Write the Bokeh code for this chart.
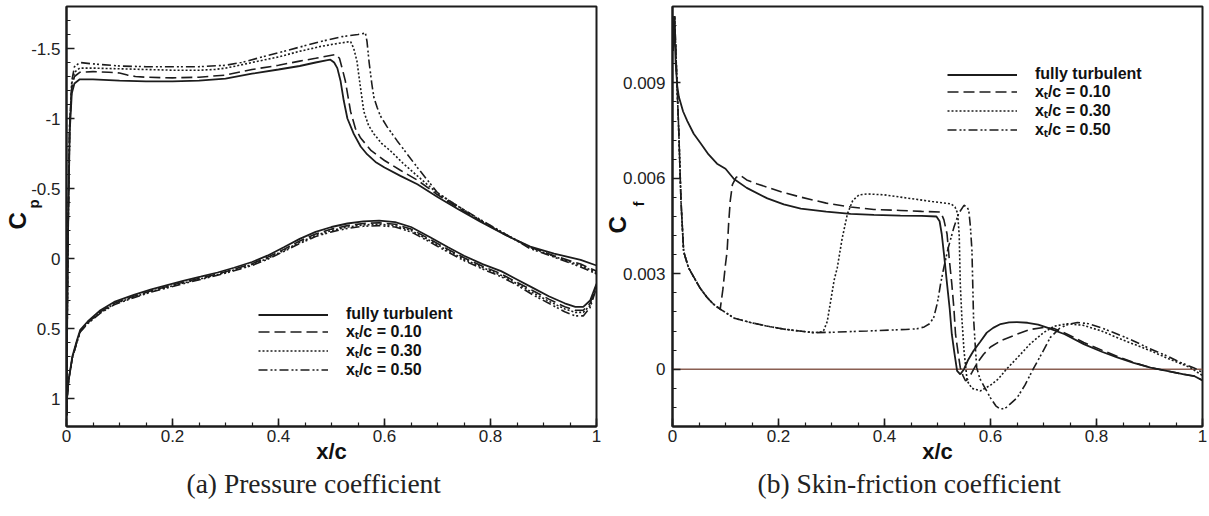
import numpy as np
from bokeh.plotting import figure
from bokeh.models import (Range1d, FixedTicker, Legend, LegendItem, Span, Title,
                          CustomJSTickFormatter)
from bokeh.layouts import row
from bokeh.embed import file_html
from bokeh.resources import INLINE

SANS = "Liberation Sans"
SERIF = "Liberation Serif"
INK = "#1c1c1c"
NBSP = "\u00a0"

# ---------------- series / legend ----------------
series_labels = ["fully turbulent", "xₜ/c = 0.10", "xₜ/c = 0.30", "xₜ/c = 0.50"]
series_dash = ["solid", "11 5", "2 2", "9 3 2 2 2 3"]
series_width = [1.8, 1.6, 1.6, 1.6]

# ---------------- (a) pressure coefficient: upper surface ----------------
x_up_ft = [0.0, 0.001, 0.003, 0.006, 0.01, 0.015, 0.025, 0.05, 0.1, 0.15, 0.2, 0.25, 0.3, 0.35, 0.4,
           0.44, 0.47, 0.49, 0.498, 0.505, 0.511, 0.517, 0.523, 0.53, 0.542, 0.555, 0.567, 0.583, 0.6,
           0.63, 0.662, 0.7, 0.74, 0.78, 0.83, 0.875, 0.92, 0.97, 1.0]
cp_up_ft = [1.12, 0.6, -0.2, -0.9, -1.18, -1.25, -1.28, -1.28, -1.27, -1.265, -1.265, -1.27, -1.285, -1.32, -1.35,
            -1.375, -1.40, -1.415, -1.42, -1.40, -1.36, -1.27, -1.13, -1.0, -0.89, -0.80, -0.745, -0.69, -0.65,
            -0.59, -0.53, -0.44, -0.35, -0.265, -0.165, -0.085, -0.035, 0.01, 0.05]

x_up_10 = [0.0, 0.001, 0.003, 0.006, 0.01, 0.015, 0.025, 0.05, 0.08, 0.1, 0.115, 0.13, 0.15, 0.2, 0.25,
           0.3, 0.35, 0.4, 0.44, 0.47, 0.49, 0.508, 0.515, 0.52, 0.526, 0.531, 0.536, 0.545, 0.555, 0.575,
           0.6, 0.63, 0.662, 0.7, 0.74, 0.78, 0.83, 0.875, 0.92, 0.97, 1.0]
cp_up_10 = [1.12, 0.6, -0.2, -0.95, -1.22, -1.30, -1.33, -1.335, -1.33, -1.325, -1.31, -1.30, -1.295, -1.29, -1.295,
            -1.31, -1.35, -1.38, -1.41, -1.43, -1.445, -1.457, -1.43, -1.36, -1.27, -1.16, -1.05, -0.93, -0.86, -0.77,
            -0.70, -0.63, -0.56, -0.455, -0.36, -0.27, -0.165, -0.08, -0.02, 0.04, 0.09]

x_up_30 = [0.0, 0.001, 0.003, 0.006, 0.01, 0.015, 0.025, 0.05, 0.1, 0.15, 0.2, 0.25, 0.28, 0.3, 0.32,
           0.35, 0.4, 0.44, 0.48, 0.51, 0.536, 0.542, 0.548, 0.554, 0.561, 0.57, 0.58, 0.595, 0.611, 0.635,
           0.662, 0.7, 0.74, 0.78, 0.83, 0.875, 0.92, 0.97, 1.0]
cp_up_30 = [1.12, 0.6, -0.2, -0.95, -1.25, -1.33, -1.36, -1.36, -1.355, -1.35, -1.345, -1.345, -1.35, -1.36, -1.375,
            -1.40, -1.44, -1.48, -1.515, -1.535, -1.55, -1.50, -1.41, -1.24, -1.05, -0.95, -0.89, -0.82, -0.77, -0.68,
            -0.59, -0.465, -0.37, -0.275, -0.17, -0.08, -0.015, 0.05, 0.1]

x_up_50 = [0.0, 0.001, 0.003, 0.006, 0.01, 0.015, 0.025, 0.05, 0.1, 0.15, 0.2, 0.25, 0.3, 0.33, 0.36,
           0.4, 0.44, 0.48, 0.52, 0.55, 0.564, 0.567, 0.571, 0.576, 0.58, 0.586, 0.592, 0.605, 0.624, 0.642,
           0.662, 0.7, 0.74, 0.78, 0.83, 0.875, 0.92, 0.97, 1.0]
cp_up_50 = [1.12, 0.6, -0.2, -0.95, -1.27, -1.37, -1.40, -1.39, -1.375, -1.37, -1.37, -1.37, -1.38, -1.40, -1.43,
            -1.47, -1.51, -1.55, -1.585, -1.60, -1.61, -1.55, -1.40, -1.25, -1.15, -1.08, -1.02, -0.94, -0.84, -0.75,
            -0.65, -0.47, -0.37, -0.28, -0.17, -0.07, -0.01, 0.06, 0.11]

# ---------------- (a) pressure coefficient: lower surface ----------------
x_lo = [0.0, 0.001, 0.004, 0.011, 0.02, 0.026, 0.04, 0.064, 0.09, 0.127, 0.16, 0.19, 0.22, 0.253, 0.285,
        0.316, 0.35, 0.379, 0.41, 0.44, 0.47, 0.5, 0.53, 0.56, 0.59, 0.62, 0.65, 0.687, 0.72, 0.75,
        0.785, 0.82, 0.85, 0.88, 0.91, 0.94, 0.96, 0.975, 0.988, 1.0]
cp_lo_ft = [1.12, 1.0, 0.87, 0.70, 0.58, 0.51, 0.45, 0.37, 0.31, 0.26, 0.22, 0.19, 0.16, 0.13, 0.10,
            0.066, 0.025, -0.02, -0.08, -0.14, -0.19, -0.225, -0.25, -0.265, -0.27, -0.26, -0.225, -0.15, -0.08, -0.02,
            0.04, 0.09, 0.15, 0.21, 0.27, 0.32, 0.345, 0.345, 0.30, 0.18]
cp_lo_10 = [1.12, 1.0, 0.87, 0.71, 0.59, 0.52, 0.46, 0.38, 0.32, 0.27, 0.23, 0.20, 0.17, 0.14, 0.11,
            0.077, 0.037, -0.008, -0.065, -0.125, -0.175, -0.21, -0.235, -0.25, -0.255, -0.245, -0.21, -0.135, -0.065, -0.005,
            0.055, 0.11, 0.17, 0.23, 0.29, 0.345, 0.37, 0.37, 0.32, 0.19]
cp_lo_30 = [1.12, 1.0, 0.87, 0.71, 0.59, 0.52, 0.46, 0.385, 0.325, 0.275, 0.235, 0.205, 0.175, 0.145, 0.115,
            0.082, 0.043, 0.0, -0.057, -0.115, -0.165, -0.2, -0.225, -0.24, -0.245, -0.235, -0.2, -0.125, -0.055, 0.005,
            0.065, 0.12, 0.18, 0.245, 0.305, 0.36, 0.385, 0.385, 0.335, 0.2]
cp_lo_50 = [1.12, 1.0, 0.87, 0.71, 0.595, 0.525, 0.465, 0.39, 0.33, 0.28, 0.24, 0.21, 0.18, 0.15, 0.12,
            0.088, 0.05, 0.006, -0.05, -0.107, -0.157, -0.19, -0.215, -0.23, -0.235, -0.225, -0.19, -0.115, -0.045, 0.015,
            0.075, 0.13, 0.19, 0.26, 0.32, 0.38, 0.41, 0.41, 0.35, 0.21]

# ---------------- (b) skin-friction coefficient ----------------
x_cf_ft = [0.001, 0.003, 0.006, 0.009, 0.012, 0.02, 0.028, 0.04, 0.053, 0.068, 0.084, 0.1, 0.116, 0.14, 0.179,
           0.21, 0.242, 0.29, 0.336, 0.38, 0.43, 0.47, 0.498, 0.504, 0.508, 0.513, 0.518, 0.523, 0.527, 0.532,
           0.537, 0.543, 0.55, 0.558, 0.568, 0.58, 0.593, 0.605, 0.619, 0.635, 0.65, 0.67, 0.69, 0.707, 0.74,
           0.776, 0.81, 0.839, 0.87, 0.902, 0.935, 0.965, 0.985, 1.0]
cf_ft = [0.0100, 0.0111, 0.0096, 0.0089, 0.00856, 0.0081, 0.0078, 0.0074, 0.0071, 0.00675, 0.00646, 0.0063, 0.00598, 0.0057, 0.00537,
         0.00518, 0.00505, 0.00495, 0.00488, 0.00485, 0.00483, 0.00482, 0.0048, 0.00465, 0.00425, 0.0035, 0.00268, 0.0019, 0.0011, 0.0005,
         -0.00005, -0.00016, 0.0, 0.0003, 0.00058, 0.00085, 0.00115, 0.0013, 0.00142, 0.00147, 0.00148, 0.00146, 0.0014, 0.00131, 0.0011,
         0.00079, 0.00055, 0.00037, 0.0002, 0.00005, -0.00006, -0.00016, -0.00022, -0.00035]

# laminar leading part shared by the transition cases
x_lam = [0.001, 0.004, 0.008, 0.012, 0.016, 0.021, 0.03, 0.04, 0.052, 0.065, 0.077, 0.09, 0.117, 0.147, 0.18,
         0.21, 0.24, 0.267, 0.3, 0.33, 0.367, 0.41, 0.44, 0.461, 0.475, 0.485]
cf_lam = [0.0100, 0.0111, 0.0092, 0.0074, 0.0053, 0.0037, 0.0032, 0.0029, 0.00255, 0.00226, 0.00205, 0.00189, 0.0016, 0.00147, 0.00135,
          0.00126, 0.0012, 0.00115, 0.00116, 0.00118, 0.0012, 0.00123, 0.00125, 0.00127, 0.00133, 0.00143]

x_tr10 = [0.095, 0.1, 0.103, 0.106, 0.109, 0.113, 0.12, 0.128, 0.14, 0.16, 0.179, 0.21, 0.242, 0.29, 0.336,
          0.38, 0.43, 0.47, 0.506, 0.512, 0.518, 0.522, 0.527, 0.531, 0.534, 0.539, 0.543, 0.548, 0.553, 0.558,
          0.565, 0.575, 0.587, 0.6, 0.62, 0.65, 0.675, 0.7, 0.72, 0.745, 0.776, 0.81, 0.84, 0.87, 0.9,
          0.935, 0.965, 0.985, 1.0]
cf_tr10 = [0.0025, 0.0033, 0.0037, 0.0046, 0.0053, 0.0058, 0.00603, 0.00609, 0.00595, 0.00582, 0.00572, 0.00555, 0.00541, 0.00522, 0.0051,
           0.00502, 0.00499, 0.00496, 0.00494, 0.0047, 0.00425, 0.0035, 0.00268, 0.0019, 0.0011, 0.0005, 0.00005, -0.0002, -0.00037, -0.0003,
           -0.0001, 0.0002, 0.00047, 0.0007, 0.0009, 0.0011, 0.00125, 0.00131, 0.00128, 0.0011, 0.00084, 0.0006, 0.0004, 0.00021, 0.00006,
           -0.00006, -0.00016, -0.00022, -0.00035]

x_tr30 = [0.28, 0.285, 0.292, 0.3, 0.305, 0.311, 0.32, 0.33, 0.34, 0.352, 0.367, 0.4, 0.43, 0.46, 0.49,
          0.525, 0.533, 0.538, 0.541, 0.543, 0.546, 0.55, 0.556, 0.565, 0.581, 0.6, 0.615, 0.63, 0.65, 0.675,
          0.7, 0.72, 0.745, 0.775, 0.808, 0.85, 0.902, 0.94, 0.977, 1.0]
cf_tr30 = [0.00117, 0.00121, 0.0015, 0.0023, 0.0028, 0.0032, 0.0041, 0.00488, 0.0053, 0.00548, 0.00551, 0.00548, 0.00541, 0.00534, 0.00527,
           0.0052, 0.0051, 0.0049, 0.0042, 0.00268, 0.0016, 0.00058, -0.00037, -0.0006, -0.00068, -0.0005, -0.0003, 0.0, 0.00035, 0.0008,
           0.00115, 0.00135, 0.00143, 0.00138, 0.00121, 0.00092, 0.00058, 0.0003, 0.00005, -0.0002]

x_tr50 = [0.493, 0.5, 0.506, 0.512, 0.52, 0.531, 0.54, 0.55, 0.555, 0.559, 0.562, 0.565, 0.568, 0.571, 0.574,
          0.58, 0.59, 0.6, 0.61, 0.619, 0.63, 0.64, 0.65, 0.665, 0.682, 0.697, 0.713, 0.73, 0.745, 0.764,
          0.785, 0.808, 0.84, 0.87, 0.9, 0.933, 0.96, 0.983, 1.0]
cf_tr50 = [0.00163, 0.0021, 0.0027, 0.0032, 0.0038, 0.00446, 0.0049, 0.00515, 0.00512, 0.00499, 0.0045, 0.00373, 0.00163, 0.0008, 0.00005,
           -0.0003, -0.0006, -0.0009, -0.00115, -0.00126, -0.0012, -0.00105, -0.0009, -0.0005, 0.00005, 0.0005, 0.001, 0.00128, 0.0014, 0.00147,
           0.00143, 0.00131, 0.0011, 0.00089, 0.00065, 0.00042, 0.0002, 0.00005, -0.0001]

# ---------------- ticks ----------------
x_ticks = [0.0, 0.2, 0.4, 0.6, 0.8, 1.0]
cp_ticks = [-1.5, -1.0, -0.5, 0.0, 0.5, 1.0]
cf_ticks = [0.0, 0.003, 0.006, 0.009]

x_minor = list(np.round(np.arange(0.0, 1.0001, 0.05), 3))
cp_minor = list(np.round(np.arange(-1.8, 1.2001, 0.1), 2))
cf_minor = list(np.round(np.arange(-0.0018, 0.01141, 0.0006), 5))

fmt_code = "return String(tick)"


def style_axes(p, yticks, yminor, ylab_standoff, ylabel_standoff):
    p.xaxis.ticker = FixedTicker(ticks=x_ticks, minor_ticks=x_minor)
    p.yaxis.ticker = FixedTicker(ticks=yticks, minor_ticks=yminor)
    for ax in (p.xaxis[0], p.yaxis[0]):
        ax.formatter = CustomJSTickFormatter(code=fmt_code)
        ax.major_tick_in = 8
        ax.major_tick_out = 0
        ax.minor_tick_in = 4
        ax.minor_tick_out = 0
        ax.axis_line_width = 2
        ax.axis_line_color = INK
        ax.major_tick_line_color = INK
        ax.minor_tick_line_color = INK
        ax.major_tick_line_width = 1.6
        ax.minor_tick_line_width = 1.2
        ax.major_label_text_font = SANS
        ax.major_label_text_font_size = "17px"
        ax.major_label_text_color = "#222222"
    p.xaxis.major_label_standoff = 3
    p.yaxis.major_label_standoff = ylab_standoff
    p.xaxis.axis_label = "x/c"
    p.xaxis.axis_label_text_font = SANS
    p.xaxis.axis_label_text_font_style = "bold"
    p.xaxis.axis_label_text_font_size = "22px"
    p.xaxis.axis_label_text_color = "#111111"
    p.xaxis.axis_label_standoff = -6
    p.yaxis.axis_label_text_font = SANS
    p.yaxis.axis_label_text_font_style = "bold"
    p.yaxis.axis_label_text_font_size = "15px"
    p.yaxis.axis_label_text_color = "#111111"
    p.yaxis.axis_label_standoff = ylabel_standoff
    p.xgrid.visible = False
    p.ygrid.visible = False
    p.outline_line_color = INK
    p.outline_line_width = 2
    p.background_fill_color = "white"
    p.border_fill_color = "white"


def add_legend(p, renderers, x0, bottoms):
    for lab, r, b in zip(series_labels, renderers, bottoms):
        lg = Legend(items=[LegendItem(label=lab, renderers=[r])], location=(x0, b),
                    orientation="vertical",
                    glyph_width=70, glyph_height=17, label_height=17, label_standoff=18,
                    spacing=0, padding=0, margin=0,
                    border_line_alpha=0, background_fill_alpha=0,
                    label_text_font=SANS, label_text_font_style="bold",
                    label_text_font_size="16px", label_text_color="#111111")
        p.add_layout(lg)


def add_ylabel(p, sub, c_offset, c_standoff):
    # subscript is carried by the axis label, the main letter by a side title
    p.yaxis.axis_label = NBSP * 6 + sub
    t = Title(text="C", align="left", offset=c_offset, standoff=c_standoff,
              text_font=SANS, text_font_style="bold", text_font_size="24px",
              text_color="#111111")
    p.add_layout(t, "left")


def add_caption(p, text, offset):
    t = Title(text=text, align="left", offset=offset, standoff=-2,
              text_font=SERIF, text_font_style="normal", text_font_size="27.5px",
              text_color="#222222")
    p.title = t
    p.title_location = "below"


# ================= (a) =================
p1 = figure(frame_width=530, frame_height=420, output_backend="svg", toolbar_location=None,
            x_range=Range1d(0, 1), y_range=Range1d(1.2, -1.8),
            min_border_left=66, min_border_right=6, min_border_top=6, min_border_bottom=84)
style_axes(p1, cp_ticks, cp_minor, 6, -14)

ups = [(x_up_ft, cp_up_ft), (x_up_10, cp_up_10), (x_up_30, cp_up_30), (x_up_50, cp_up_50)]
lows = [cp_lo_ft, cp_lo_10, cp_lo_30, cp_lo_50]
leg1 = {}
for i in (3, 2, 1, 0):
    xs, ys = ups[i]
    leg1[i] = p1.line(xs, ys, line_color=INK, line_width=series_width[i], line_dash=series_dash[i])
    p1.line(x_lo, lows[i], line_color=INK, line_width=series_width[i], line_dash=series_dash[i])
add_legend(p1, [leg1[i] for i in range(4)], 192, [103, 84, 65, 46])
add_ylabel(p1, "p", 197, -17)
add_caption(p1, "(a) Pressure coefficient", 120)

# ================= (b) =================
p2 = figure(frame_width=530, frame_height=420, output_backend="svg", toolbar_location=None,
            x_range=Range1d(0, 1), y_range=Range1d(-0.0018, 0.0114),
            min_border_left=70, min_border_right=5, min_border_top=6, min_border_bottom=84)
style_axes(p2, cf_ticks, cf_minor, 7, -27)
p2.add_layout(Span(location=0, dimension="width", line_color="#8a5f52", line_width=1.3, level="underlay"))

cf_series = [(x_cf_ft, cf_ft),
             (x_lam[:12] + x_tr10, cf_lam[:12] + cf_tr10),
             (x_lam[:18] + x_tr30, cf_lam[:18] + cf_tr30),
             (x_lam + x_tr50, cf_lam + cf_tr50)]
leg2 = {}
for i in (3, 2, 1, 0):
    xs, ys = cf_series[i]
    leg2[i] = p2.line(xs, ys, line_color=INK, line_width=series_width[i], line_dash=series_dash[i])
add_legend(p2, [leg2[i] for i in range(4)], 275, [343, 324, 305, 286])
add_ylabel(p2, "f", 193, -9)
add_caption(p2, "(b) Skin-friction coefficient", 85)

layout = row(p1, p2)
open("out.html", "w").write(file_html(layout, INLINE))
